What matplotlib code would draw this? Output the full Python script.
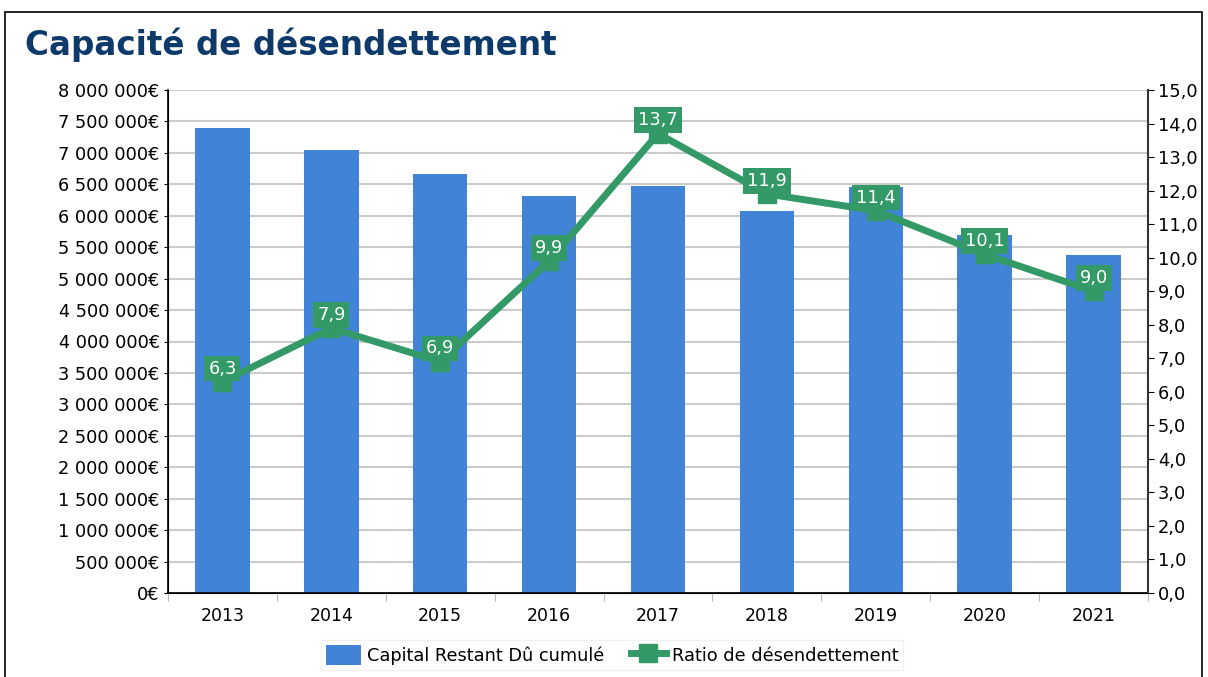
import matplotlib.pyplot as plt
import matplotlib.ticker as mticker
from matplotlib.patches import Rectangle
import numpy as np

plt.rcParams['font.family'] = ['DejaVu Sans']

# Data
years = ["2013", "2014", "2015", "2016", "2017", "2018", "2019", "2020", "2021"]
capital = [7400000, 7050000, 6670000, 6320000, 6470000, 6080000, 6450000, 5700000, 5380000]
ratio = [6.3, 7.9, 6.9, 9.9, 13.7, 11.9, 11.4, 10.1, 9.0]

bar_color = "#4183d7"
line_color = "#339966"

fig = plt.figure(figsize=(12.08, 6.77), dpi=100)
fig.patches.append(Rectangle((5 / 1208, -0.1), 1197 / 1208, 1 - 12 / 677 + 0.1,
                             transform=fig.transFigure, fill=False,
                             edgecolor="black", linewidth=1.2))

fig.text(25 / 1208, 1 - 45 / 677, "Capacité de désendettement", fontsize=23.5,
         fontweight="bold", color="#0d3a6b", va="center", ha="left")

ax = fig.add_axes([168 / 1208, 84 / 677, 980 / 1208, 503 / 677])
x = np.arange(len(years))
ax.bar(x, capital, width=0.5, color=bar_color, zorder=2,
       label="Capital Restant Dû cumulé")
ax.set_xlim(-0.5, len(years) - 0.5)
ax.set_ylim(0, 8000000)
ax.yaxis.set_major_locator(mticker.MultipleLocator(500000))
ax.yaxis.set_major_formatter(mticker.FuncFormatter(
    lambda v, p: f"{int(v):,}".replace(",", " ") + "€"))
ax.grid(axis="y", color="#cccccc", linewidth=1.5, zorder=0)
ax.set_axisbelow(True)
ax.set_xticks(x)
ax.set_xticklabels(years)
ax.set_xticks(np.arange(-0.5, len(years)), minor=True)
ax.tick_params(axis="x", which="major", length=0, labelsize=12.5, pad=10)
ax.tick_params(axis="x", which="minor", length=6, color="#aaaaaa")
ax.tick_params(axis="y", labelsize=12.8, length=3, pad=3)
ax.spines["top"].set_visible(False)
for s in ["left", "bottom", "right"]:
    ax.spines[s].set_color("black")
    ax.spines[s].set_linewidth(1.2)

ax2 = ax.twinx()
ax2.plot(x, ratio, color=line_color, linewidth=5, marker="s", markersize=13,
         zorder=3, label="Ratio de désendettement")
ax2.set_ylim(0, 15)
ax2.yaxis.set_major_locator(mticker.MultipleLocator(1))
ax2.yaxis.set_major_formatter(mticker.FuncFormatter(
    lambda v, p: f"{v:.1f}".replace(".", ",")))
ax2.tick_params(axis="y", labelsize=12.8, length=4, pad=3)
ax2.spines["top"].set_visible(False)
ax2.spines["right"].set_color("#333333")
ax2.spines["right"].set_linewidth(1.5)

for xi, r in zip(x, ratio):
    ax2.annotate(f"{r:.1f}".replace(".", ","), (xi, r), xytext=(0, 9.5),
                 textcoords="offset points", ha="center", va="center",
                 color="white", fontsize=12.8, zorder=5,
                 bbox=dict(boxstyle="square,pad=0.22", fc=line_color, ec="none"))

h1, l1 = ax.get_legend_handles_labels()
h2, l2 = ax2.get_legend_handles_labels()
fig.legend(h1 + h2, l1 + l2, loc="center", bbox_to_anchor=(612 / 1208, 1 - 655 / 677),
           ncol=2, fontsize=12.8, frameon=True, fancybox=False, edgecolor="#eeeeee",
           handlelength=2.0, handleheight=1.3, handletextpad=0.3,
           columnspacing=1.5, borderpad=0.3)

fig.savefig("out.png", dpi=100)
